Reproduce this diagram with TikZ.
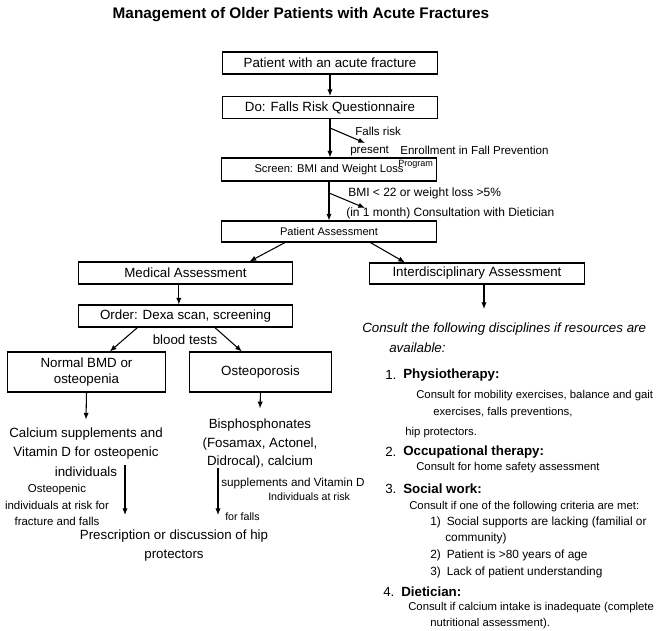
\documentclass[tikz,border=0pt]{standalone}
\usepackage{fontspec}
\setmainfont{Liberation Sans}
\usetikzlibrary{arrows.meta}

\begin{document}
\begin{tikzpicture}[x=0.75pt,y=-0.75pt,
  >={Latex[length=5pt,width=4pt]},
  box/.style={draw, line width=0.8pt, inner sep=0pt, minimum width=161pt, minimum height=16.5pt, font=\fontsize{10}{12}\selectfont},
  bigbox/.style={draw, line width=0.8pt, inner sep=0pt, minimum height=30pt, align=center, font=\fontsize{10}{12}\selectfont},
  lbl/.style={anchor=west, inner sep=0pt, font=\fontsize{8.7}{10}\selectfont},
  txt/.style={inner sep=0pt, align=center, font=\fontsize{10}{14.5}\selectfont},
  head/.style={anchor=west, inner sep=0pt, font=\fontsize{10}{12}\selectfont},
  conn/.style={->, line width=0.8pt}]
\useasboundingbox (0,0) rectangle (658,631);

\node[font=\bfseries\fontsize{11.5}{14}\selectfont] (title) at (301,15) {Management of Older Patients with Acute Fractures};

%boxes down the middle
\node[box] (fracture) at (330,63) {Patient with an acute fracture};
\node[box] (falls) at (330,107.5) {Do: Falls Risk Questionnaire};
\node[box, minimum height=17.25pt, font=\fontsize{8.4}{10}\selectfont] (screen) at (329,169.5) {Screen: BMI and Weight Loss\hspace{17pt}};
\node[box, minimum height=15.75pt, font=\fontsize{8.3}{10}\selectfont] (assess) at (329,231.5) {Patient Assessment};
\node[box] (medical) at (185.5,273) {Medical Assessment};
\node[box, minimum height=15.75pt] (inter) at (477,273.5) {Interdisciplinary Assessment};
\node[box] (order) at (185.5,316) {Order: Dexa scan, screening};
\node[bigbox, minimum width=119pt] (normal) at (86.5,372) {Normal BMD or\\osteopenia};
\node[bigbox, minimum width=107pt] (osteo) at (260.5,372) {Osteoporosis};

%labels at the side arrows
\node[lbl] (risk) at (355,131) {Falls risk};
\node[lbl] (present) at (350,151) {present};
\node[lbl] (enrol) at (400,150) {Enrollment in Fall Prevention};
\node[lbl, font=\fontsize{6.8}{8}\selectfont] (program) at (398,164) {Program};
\node[lbl, font=\fontsize{9}{10}\selectfont] (bmi) at (348,193) {BMI < 22 or weight loss >5\%};
\node[lbl, font=\fontsize{9}{10}\selectfont] (dietician) at (346,213) {(in 1 month) Consultation with Dietician};
\node[txt] (blood) at (185,340) {blood tests};

%left column texts
\node[txt] (calcium) at (86,452) {Calcium supplements and\\Vitamin D for osteopenic\\individuals};
\node[txt, font=\fontsize{8.6}{12.4}\selectfont] (osteopenic) at (57,505) {Osteopenic\\individuals at risk for\\fracture and falls};
\node[txt, font=\fontsize{10}{13.9}\selectfont] (bisph) at (260,444) {Bisphosphonates\\(Fosamax, Actonel,\\Didrocal), calcium};
\node[lbl, font=\fontsize{8.8}{10}\selectfont] (vitd) at (221,483) {supplements and Vitamin D};
\node[lbl, font=\fontsize{8}{10}\selectfont] (atrisk) at (268,497) {Individuals at risk};
\node[lbl, font=\fontsize{8}{10}\selectfont] (forfalls) at (225,517) {for falls};
\node[txt, font=\fontsize{10}{14.3}\selectfont] (hip) at (174,546) {Prescription or discussion of hip\\protectors};

%right column texts
\node[head, font=\itshape\fontsize{10}{12}\selectfont] (consult) at (362,329) {Consult the following disciplines if resources are};
\node[head, font=\itshape\fontsize{10}{12}\selectfont] (avail) at (389,348) {available:};
\node[head] (n1) at (385,375) {1.};
\node[head, font=\bfseries\fontsize{10}{12}\selectfont] (physio) at (403,375) {Physiotherapy:};
\node[lbl, font=\fontsize{8.5}{10}\selectfont] (physa) at (416,396) {Consult for mobility exercises, balance and gait};
\node[lbl, font=\fontsize{8.5}{10}\selectfont] (physb) at (433,413) {exercises, falls preventions,};
\node[lbl, font=\fontsize{8.5}{10}\selectfont] (physc) at (405,433) {hip protectors.};
\node[head] (n2) at (385,452) {2.};
\node[head, font=\bfseries\fontsize{10}{12}\selectfont] (occu) at (403,452) {Occupational therapy:};
\node[lbl, font=\fontsize{8.5}{10}\selectfont] (occua) at (416,468) {Consult for home safety assessment};
\node[head] (n3) at (385,489) {3.};
\node[head, font=\bfseries\fontsize{10}{12}\selectfont] (social) at (403,489) {Social work:};
\node[lbl, font=\fontsize{8.5}{10}\selectfont] (sociala) at (409,507) {Consult if one of the following criteria are met:};
\node[lbl, font=\fontsize{8.9}{10}\selectfont] (crit1) at (430,522) {1)\enspace Social supports are lacking (familial or};
\node[lbl, font=\fontsize{8.9}{10}\selectfont] (crit1b) at (445,538) {community)};
\node[lbl, font=\fontsize{8.9}{10}\selectfont] (crit2) at (430,555) {2)\enspace Patient is >80 years of age};
\node[lbl, font=\fontsize{8.9}{10}\selectfont] (crit3) at (430,572) {3)\enspace Lack of patient understanding};
\node[head] (n4) at (383,592) {4.};
\node[head, font=\bfseries\fontsize{10}{12}\selectfont] (diet) at (401,592) {Dietician:};
\node[lbl, font=\fontsize{8.5}{10}\selectfont] (dieta) at (408,608) {Consult if calcium intake is inadequate (complete};
\node[lbl, font=\fontsize{8.5}{10}\selectfont] (dietb) at (430,624) {nutritional assessment).};

%free ends of the arrows
\coordinate (riskfrom) at (330,128);
\coordinate (riskto) at (365,143);
\coordinate (bmifrom) at (329,193);
\coordinate (bmito) at (365,208);
\coordinate (interend) at (484,309);
\coordinate (hipa) at (125,465);
\coordinate (hipaend) at (125,515);
\coordinate (hipb) at (218,468);
\coordinate (hipbend) at (218,515);

%arrows
\draw[conn] (fracture) -- (falls);
\draw[conn] (falls.south) -- (falls.south |- screen.north);
\draw[conn] (riskfrom) -- (riskto);
\draw[conn] (screen.south) -- (screen.south |- assess.north);
\draw[conn] (bmifrom) -- (bmito);
\draw[conn] ([xshift=-33pt]assess.south) -- ([xshift=48pt]medical.north);
\draw[conn] ([xshift=31pt]assess.south) -- ([xshift=-54pt]inter.north);
\draw[conn] ([xshift=-5pt]medical.south) -- ([xshift=-5pt]order.north);
\draw[conn] ([xshift=-36pt]order.south) -- ([xshift=17.5pt]normal.north);
\draw[conn] ([xshift=22pt]order.south) -- ([xshift=-14pt]osteo.north);
\draw[conn] (inter.south -| interend) -- (interend);
\draw[conn] (normal.south) -- ([yshift=6pt]calcium.north);
\draw[conn] (osteo.south) -- ([yshift=8pt]bisph.north);
\draw[conn] (hipa) -- (hipaend);
\draw[conn] (hipb) -- (hipbend);
\end{tikzpicture}
\end{document}
